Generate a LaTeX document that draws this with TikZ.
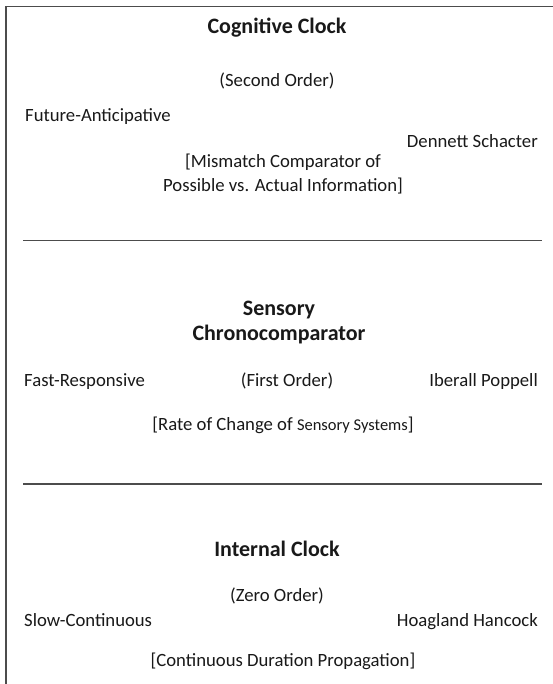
\documentclass[tikz,border=0pt]{standalone}
\usepackage{fontspec}
\setmainfont{Carlito}
\begin{document}
\begin{tikzpicture}[x=1pt,y=-1pt,
  txt/.style={inner sep=0pt,font=\fontsize{18.7}{24}\selectfont,text=black!90},
  ttl/.style={inner sep=0pt,font=\fontsize{22}{25}\selectfont\bfseries,text=black!90,align=center},
  rule/.style={draw=black!70,line width=1.3pt},
  frame/.style={draw=black!70,line width=1.6pt}]
\useasboundingbox (0,0) rectangle (552,684);
\fill[white] (0,0) rectangle (552,684);
\coordinate (f1) at (6,684);
\coordinate (f2) at (6,6.5);
\coordinate (f3) at (553,6.5);
\draw[frame] (f1) -- (f2) -- (f3);
% section 1
\node[ttl] (t1) at (277,28) {Cognitive Clock};
\node[txt] (o1) at (277,81) {(Second Order)};
\node[txt,anchor=west] (l1) at (25,117) {Future-Anticipative};
\node[txt,anchor=east] (r1) at (538,141) {Dennett Schacter};
\node[txt,align=center] (d1) at (283,174) {[Mismatch Comparator of\\Possible vs. Actual Information]};
\coordinate (a1) at (23,240.5);
\coordinate (b1) at (542,240.5);
\draw[rule] (a1) -- (b1);
% section 2
\node[ttl] (t2) at (279,323) {Sensory\\Chronocomparator};
\node[txt,anchor=west] (l2) at (24,382) {Fast-Responsive};
\node[txt] (o2) at (287,381) {(First Order)};
\node[txt,anchor=east] (r2) at (538,382) {Iberall Poppell};
\node[txt] (d2) at (283,425) {[Rate of Change of {\fontsize{16.5}{20}\selectfont Sensory Systems}]};
\coordinate (a2) at (23,484);
\coordinate (b2) at (542,484);
\draw[rule] (a2) -- (b2);
% section 3
\node[ttl] (t3) at (277,549) {Internal Clock};
\node[txt] (o3) at (277,596) {(Zero Order)};
\node[txt,anchor=west] (l3) at (24,620) {Slow-Continuous};
\node[txt,anchor=east] (r3) at (538,621.5) {Hoagland Hancock};
\node[txt] (d3) at (283,661) {[Continuous Duration Propagation]};
\end{tikzpicture}
\end{document}
